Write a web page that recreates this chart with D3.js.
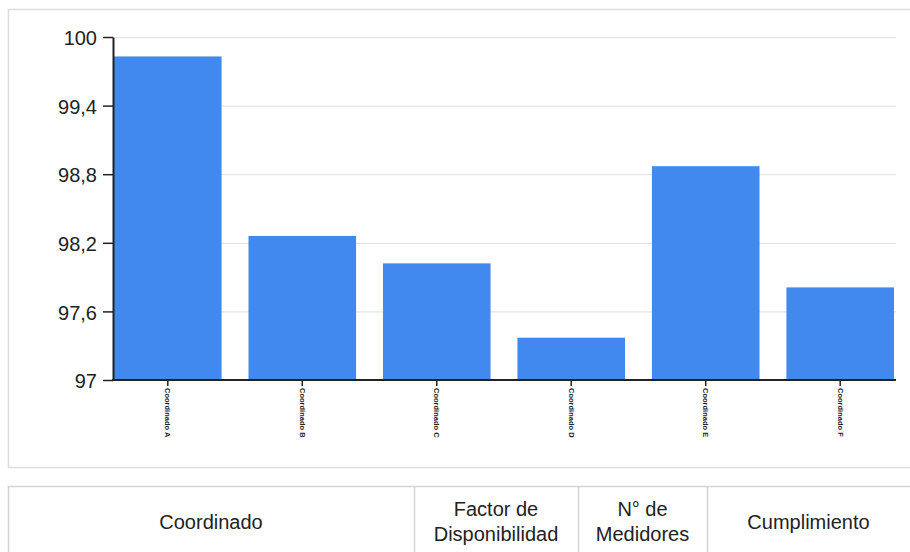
<!DOCTYPE html>
<html>
<head>
<meta charset="utf-8">
<script src="https://cdn.jsdelivr.net/npm/d3@7"></script>
<style>
  body { margin: 0; background: #fff; }
  svg { display: block; font-family: "Liberation Sans", Arial, sans-serif; }
</style>
</head>
<body>
<div id="chart"></div>
<script>
// data
var categories = ["Coordinado A", "Coordinado B", "Coordinado C", "Coordinado D", "Coordinado E", "Coordinado F"];
var values = [99.83, 98.26, 98.02, 97.37, 98.87, 97.81];
var yTicks = [97, 97.6, 98.2, 98.8, 99.4, 100];
var headers = [["Coordinado"], ["Factor de", "Disponibilidad"], ["N° de", "Medidores"], ["Cumplimiento"]];
var headerCols = [8, 414, 578, 707, 920];

var W = 910, H = 552;
var svg = d3.select("#chart").append("svg")
    .attr("width", W)
    .attr("height", H);

// outer chart box
svg.append("rect")
    .attr("x", 8.5).attr("y", 9.5)
    .attr("width", 920).attr("height", 458)
    .attr("fill", "none")
    .attr("stroke", "#dcdcdc")
    .attr("stroke-width", 1.5);

var plotLeft = 114, plotRight = 894, gridRight = 896, plotTop = 37, plotBottom = 380;

var x = d3.scaleBand()
    .domain(categories)
    .range([plotLeft, plotRight])
    .paddingInner(0.2)
    .paddingOuter(0);

var y = d3.scaleLinear()
    .domain([97, 100])
    .range([plotBottom, plotTop]);

var locale = d3.formatLocale({decimal: ",", thousands: ".", grouping: [3], currency: ["", ""]});
var fmt = function(d){ return locale.format("~g")(d) };

// grid
svg.append("g").selectAll("line")
    .data(yTicks)
    .enter()
    .append("line")
        .attr("x1", plotLeft - 1)
        .attr("x2", gridRight)
        .attr("y1", function(d){ return y(d) + 0.5 })
        .attr("y2", function(d){ return y(d) + 0.5 })
        .attr("stroke", "#dedede")
        .attr("stroke-width", 1);

// bars
svg.append("g").selectAll("rect")
    .data(values)
    .enter()
    .append("rect")
        .attr("x", function(d, i){ return x(categories[i]) })
        .attr("y", function(d){ return y(d) })
        .attr("width", x.bandwidth())
        .attr("height", function(d){ return plotBottom - y(d) })
        .attr("fill", "#4189ee");

// y axis
var yAxis = svg.append("g")
    .attr("transform", "translate(" + (plotLeft - 1) + ",0)")
    .call(d3.axisLeft(y).tickValues(yTicks).tickFormat(fmt).tickSize(10).tickSizeOuter(0));
yAxis.select(".domain").attr("stroke", "#222").attr("stroke-width", 2);
yAxis.selectAll(".tick line").attr("stroke", "#222").attr("stroke-width", 1.5);
yAxis.selectAll(".tick text")
    .attr("x", -16)
    .attr("dy", "0.38em")
    .attr("font-size", 20)
    .attr("font-family", "Liberation Sans, Arial, sans-serif")
    .attr("fill", "#222");

// x axis
var xAxis = svg.append("g")
    .attr("transform", "translate(0," + plotBottom + ")")
    .call(d3.axisBottom(x).tickSize(6).tickSizeOuter(0));
xAxis.select(".domain")
    .attr("d", "M" + (plotLeft - 2) + ",0H" + gridRight)
    .attr("stroke", "#222").attr("stroke-width", 2);
xAxis.selectAll(".tick line").attr("stroke", "#222").attr("stroke-width", 1.5);
xAxis.selectAll(".tick text")
    .attr("font-size", 7.5)
    .attr("font-family", "Liberation Sans, Arial, sans-serif")
    .attr("font-weight", "bold")
    .attr("fill", "#222")
    .attr("text-anchor", "start")
    .attr("dy", "0.35em")
    .attr("transform", "translate(0,2) rotate(90)")
    .attr("x", 6)
    .attr("y", 0);

// table header
var table = svg.append("g");
table.append("rect")
    .attr("x", 8.5).attr("y", 486.5)
    .attr("width", 920).attr("height", 100)
    .attr("fill", "none")
    .attr("stroke", "#d4d4d4")
    .attr("stroke-width", 1.5);

table.selectAll("line.col")
    .data(headerCols.slice(1, -1))
    .enter()
    .append("line")
        .attr("class", "col")
        .attr("x1", function(d){ return d + 0.5 })
        .attr("x2", function(d){ return d + 0.5 })
        .attr("y1", 487)
        .attr("y2", H)
        .attr("stroke", "#d4d4d4")
        .attr("stroke-width", 1.5);

var cells = table.selectAll("text.head")
    .data(headers)
    .enter()
    .append("text")
        .attr("class", "head")
        .attr("text-anchor", "middle")
        .attr("font-size", 20)
        .attr("fill", "#222")
        .attr("x", function(d, i){
            var r = i == headers.length - 1 ? 910 : headerCols[i + 1];
            return (headerCols[i] + r) / 2 })
        .attr("y", function(d){ return d.length > 1 ? 516 : 529 });

cells.selectAll("tspan")
    .data(function(d){ return d })
    .enter()
    .append("tspan")
        .attr("x", function(){ return d3.select(this.parentNode).attr("x") })
        .attr("dy", function(d, i){ return i ? 25 : 0 })
        .text(function(d){ return d });
</script>
</body>
</html>
